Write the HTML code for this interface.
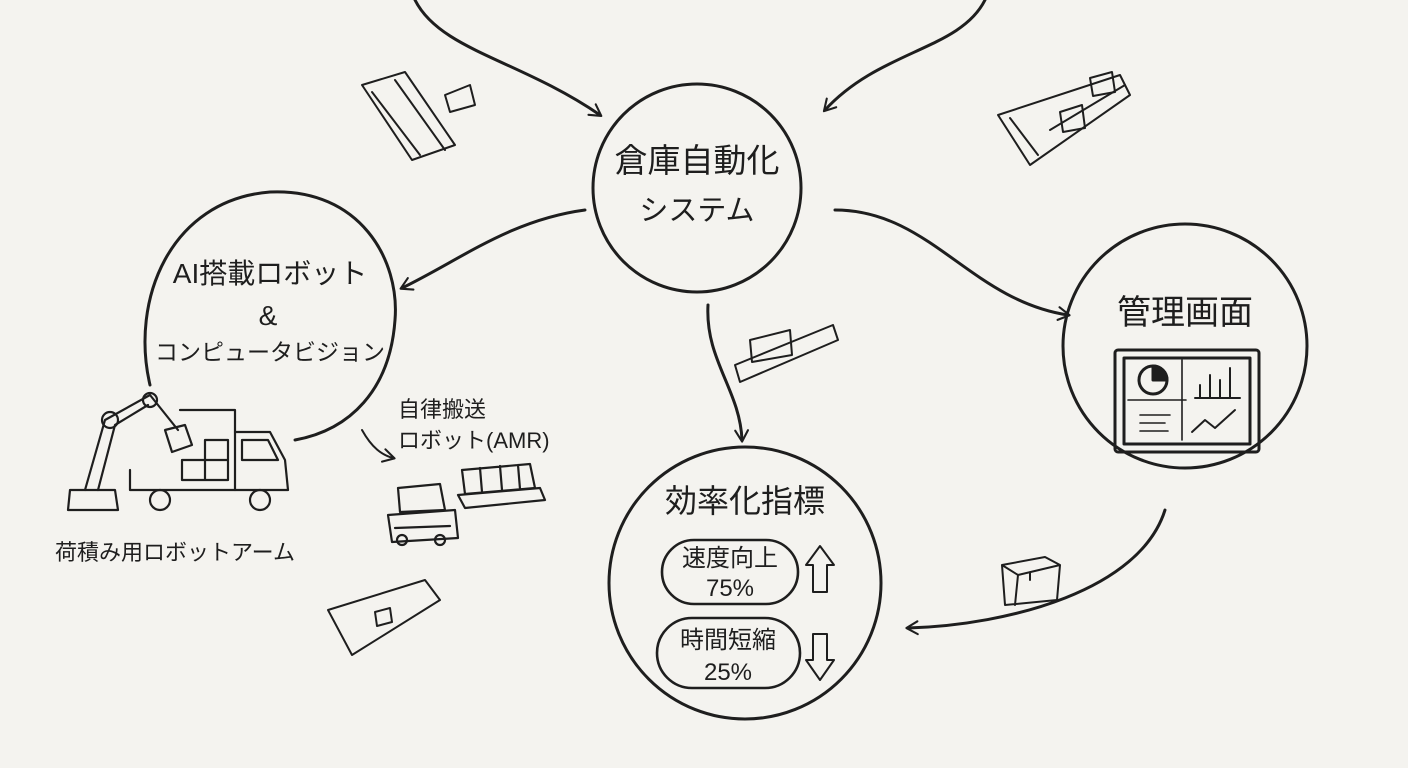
<!DOCTYPE html>
<html><head><meta charset="utf-8">
<style>
html,body{margin:0;padding:0;background:#f4f3ef;}
svg{display:block;}
text{font-family:"Liberation Sans","Noto Sans CJK JP",sans-serif;fill:#1e1e1e;}
</style></head><body>
<svg width="1408" height="768" viewBox="0 0 1408 768" xmlns="http://www.w3.org/2000/svg">
<defs>
<marker id="ah" viewBox="0 0 20 20" refX="14" refY="10" markerWidth="16" markerHeight="16" orient="auto" markerUnits="userSpaceOnUse">
<path d="M2,2 L16,10 L2,18" fill="none" stroke="#1e1e1e" stroke-width="2.6" stroke-linecap="round" stroke-linejoin="round"/>
</marker>
</defs>
<rect width="1408" height="768" fill="#f4f3ef"/>
<g fill="none" stroke="#1e1e1e" stroke-width="3" stroke-linecap="round" stroke-linejoin="round">
<path d="M415,0 C440,50 520,60 600,115" marker-end="url(#ah)"/>
<path d="M985,0 C960,50 880,50 825,110" marker-end="url(#ah)"/>
<circle cx="697" cy="188" r="104"/>
<path d="M150,385 C130,300 170,200 270,192 C360,188 400,260 395,320 C390,390 350,430 295,440"/>
<circle cx="1185" cy="346" r="122"/>
<circle cx="745" cy="583" r="136"/>
<path d="M585,210 C510,220 460,260 402,288" marker-end="url(#ah)"/>
<path d="M835,210 C930,210 970,300 1068,315" marker-end="url(#ah)"/>
<path d="M708,305 C705,360 740,390 742,440" marker-end="url(#ah)"/>
<path d="M1165,510 C1140,590 1010,625 908,628" marker-end="url(#ah)"/>
<path d="M362,430 C372,448 382,455 393,458" marker-end="url(#ah)" stroke-width="2"/>
<rect x="662" y="540" width="136" height="64" rx="32" stroke-width="2.6"/>
<rect x="657" y="618" width="143" height="70" rx="35" stroke-width="2.6"/>
<path d="M813,592 L813,565 L806,565 L820,546 L834,565 L827,565 L827,592 Z" stroke-width="2"/>
<path d="M813,634 L813,660 L806,660 L820,680 L834,660 L827,660 L827,634 Z" stroke-width="2"/>
<rect x="1115" y="350" width="144" height="102" rx="3"/>
<rect x="1124" y="358" width="126" height="86"/>
<path d="M1128,400 L1186,400 M1182,360 L1182,440" stroke-width="1.6"/>
<circle cx="1153" cy="380" r="14"/>
<path d="M1153,366 L1153,380 L1167,380 A14,14 0 0 0 1153,366Z" fill="#1e1e1e"/>
<path d="M1195,398 L1240,398 M1200,398 L1200,385 M1210,398 L1210,375 M1220,398 L1220,380 M1230,398 L1230,368" stroke-width="2"/>
<path d="M1192,432 L1205,420 L1215,428 L1235,410" stroke-width="2"/>
<path d="M1140,415 L1170,415 M1140,423 L1165,423 M1140,431 L1168,431" stroke-width="1.6"/>
<g stroke-width="2">
<path d="M362,85 L412,160 L455,145 L405,72 Z"/><path d="M372,92 L420,155 M395,80 L445,150"/>
<path d="M445,95 L470,85 L475,105 L450,112 Z"/>
<path d="M998,115 L1030,165 L1130,95 L1120,75 Z"/><path d="M1010,118 L1038,155 M1050,130 L1125,85"/>
<path d="M1060,112 L1082,105 L1085,128 L1063,132 Z M1090,78 L1112,72 L1115,92 L1093,96 Z"/>
<path d="M735,365 L740,382 L838,340 L833,325 Z"/><path d="M750,340 L790,330 L792,355 L752,362 Z"/>
<path d="M328,610 L352,655 L440,600 L425,580 Z"/><path d="M375,612 L390,608 L392,622 L377,626 Z"/>
<path d="M1002,565 L1045,557 L1060,565 L1057,600 L1005,605 Z M1002,565 L1018,575 L1060,565 M1018,575 L1015,605 M1030,572 L1030,580"/>
</g>
<g stroke-width="2.2">
<path d="M68,510 L70,490 L115,490 L118,510 Z"/>
<path d="M85,490 L105,420 L150,395 L178,430"/><path d="M98,490 L115,425 L148,405"/>
<circle cx="110" cy="420" r="8"/><circle cx="150" cy="400" r="7"/>
<path d="M165,430 L185,425 L192,445 L172,452 Z"/>
<path d="M180,410 L235,410 L235,490 L130,490 L130,470"/>
<path d="M235,432 L270,432 L285,460 L288,490 L235,490"/><path d="M242,440 L268,440 L278,460 L242,460 Z"/>
<path d="M182,460 L205,460 L205,480 L182,480 Z M205,460 L228,460 L228,480 L205,480 Z M205,440 L228,440 L228,460 L205,460 Z"/>
<circle cx="160" cy="500" r="10"/><circle cx="260" cy="500" r="10"/>
</g>
<g stroke-width="2.2">
<path d="M388,515 L455,510 L458,538 L392,542 Z"/><path d="M395,528 L450,526"/>
<path d="M398,488 L440,484 L445,510 L400,512 Z"/>
<path d="M458,495 L540,488 L545,500 L465,508 Z"/><path d="M462,470 L530,464 L535,488 L465,494 Z M480,468 L482,492 M500,466 L502,490 M518,465 L520,489"/>
<circle cx="402" cy="540" r="5"/><circle cx="440" cy="540" r="5"/>
</g>
</g>
<text x="697" y="172" font-size="33" text-anchor="middle">倉庫自動化</text>
<text x="697" y="220" font-size="29" text-anchor="middle">システム</text>
<text x="270" y="283" font-size="28" text-anchor="middle">AI搭載ロボット</text>
<text x="268" y="325" font-size="28" text-anchor="middle">&amp;</text>
<text x="270" y="360" font-size="23" text-anchor="middle">コンピュータビジョン</text>
<text x="1185" y="324" font-size="34" text-anchor="middle">管理画面</text>
<text x="745" y="512" font-size="32" text-anchor="middle">効率化指標</text>
<text x="730" y="566" font-size="24" text-anchor="middle">速度向上</text>
<text x="730" y="596" font-size="24" text-anchor="middle">75%</text>
<text x="728" y="648" font-size="24" text-anchor="middle">時間短縮</text>
<text x="728" y="680" font-size="24" text-anchor="middle">25%</text>
<text x="398" y="417" font-size="22">自律搬送</text>
<text x="398" y="448" font-size="22">ロボット(AMR)</text>
<text x="175" y="560" font-size="22" text-anchor="middle">荷積み用ロボットアーム</text>
</svg>
</body></html>
